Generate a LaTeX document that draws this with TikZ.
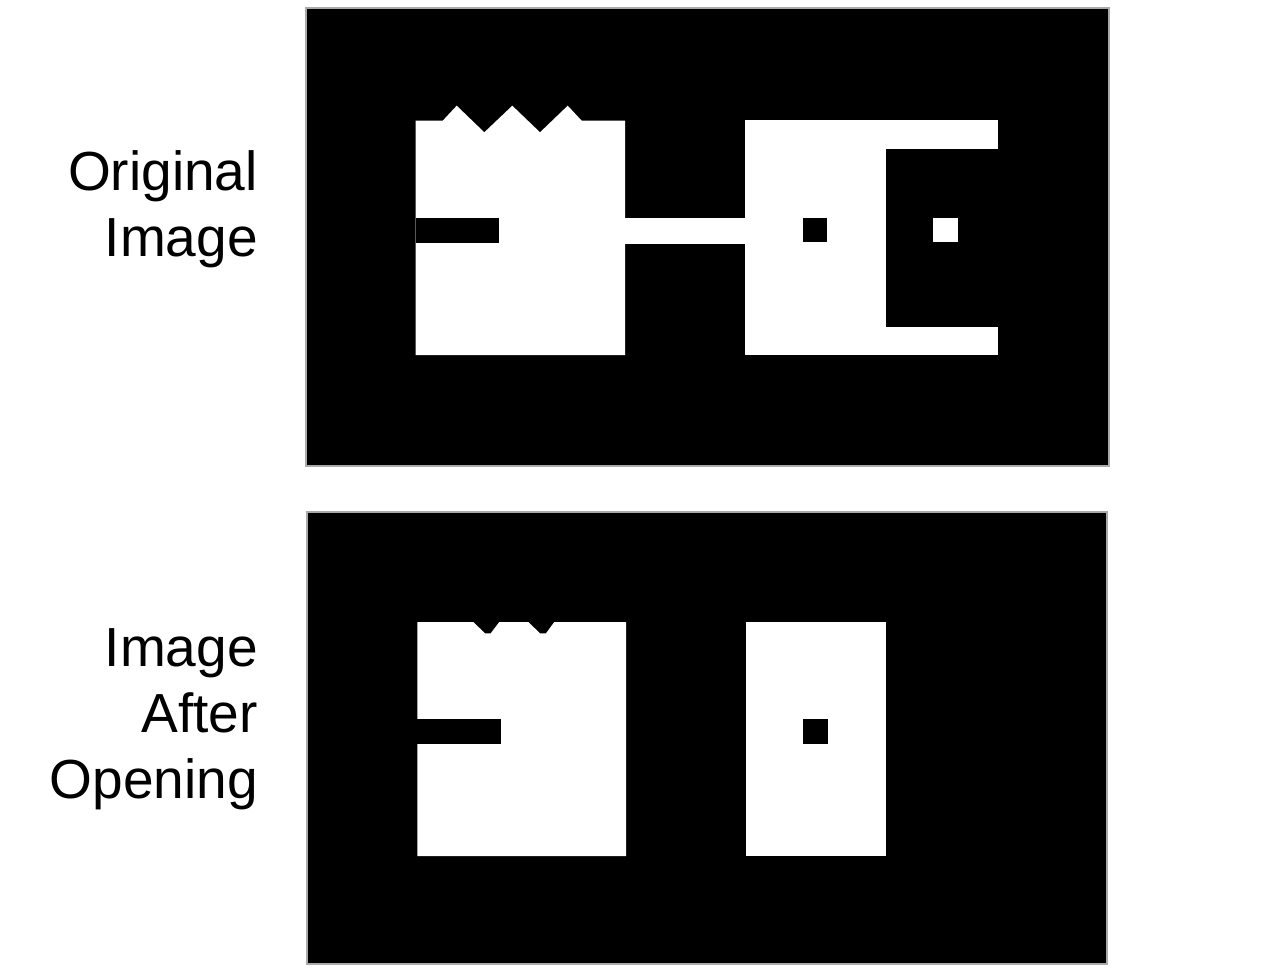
\documentclass[tikz,border=0pt]{standalone}
\usepackage{fontspec}
\setmainfont{Liberation Sans}
\usepackage{xcolor}
\usepackage{tikz}
\usetikzlibrary{positioning, calc}
\definecolor{frameColor}{RGB}{170, 170, 170}

\begin{document}
\begin{tikzpicture}[
    x=0.03cm, y=-0.03cm,
    panel/.style={fill=black, draw=frameColor, line width=0.9pt},
    fg/.style={fill=white},
    bg/.style={fill=black},
    caption/.style={anchor=base east, align=right, inner sep=0pt, font=\fontsize{47}{56.3}\selectfont}
]
\useasboundingbox (0,0) rectangle (1264,974);

% Panels
\draw [panel] (306,8) rectangle (1109,466);
\draw [panel] (307,512) rectangle (1107,964);

% Original image
\fill [fg] (415.5,355) -- (415.5,120.7) -- (442.7,120.7) -- (456.7,105.7) -- (484.3,132.3)
    -- (512.3,105.7) -- (540,132.3) -- (567.7,105.7) -- (581.7,120.7) -- (625,120.7)
    -- (625,355) -- cycle;
\fill [bg] (415.5,217.7) rectangle (498.7,242.7);
\fill [fg] (624,217.5) rectangle (746,244);
\fill [fg] (745.3,120.3) rectangle (997.7,355.3);
\fill [bg] (886.3,149.3) rectangle (998.5,326.7);
\fill [bg] (802.7,218.3) rectangle (827.3,242.3);
\fill [fg] (932.7,218.3) rectangle (957.7,242.3);

% Image after opening
\fill [fg] (417.3,856) -- (417.3,622) -- (473.3,622) -- (485,633.3) -- (490.7,633.3)
    -- (499.3,622) -- (528.3,622) -- (540,633.3) -- (546,633.3) -- (554.3,622)
    -- (626,622) -- (626,856) -- cycle;
\fill [bg] (417.3,719) rectangle (501,744);
\fill [fg] (746,622) rectangle (886,856);
\fill [bg] (803,719) rectangle (828,744);

% Labels (anchored at the baseline of the last line)
\node (orig) [caption] at (258,256) {Original\\Image};
\node (opened) [caption] at (258,798) {Image\\After\\Opening};

\end{tikzpicture}
\end{document}
